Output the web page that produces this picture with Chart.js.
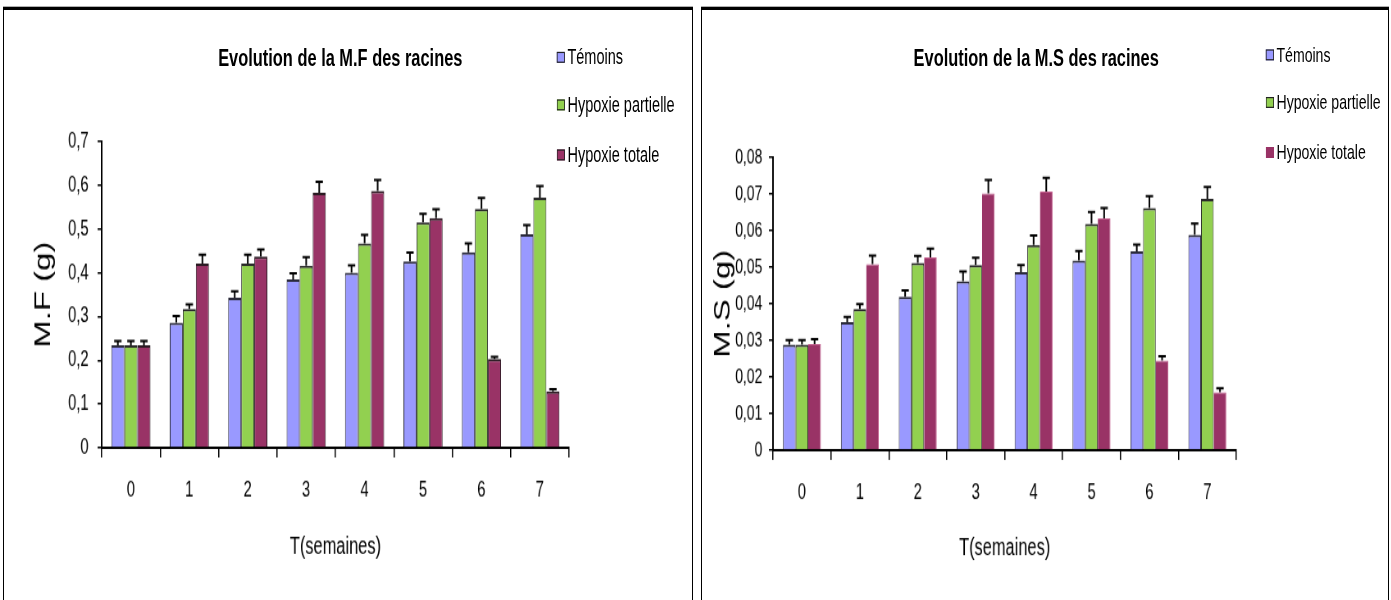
<!DOCTYPE html>
<html lang="fr">
<head>
<meta charset="utf-8">
<title>Evolution des racines</title>
<script src="https://cdn.jsdelivr.net/npm/chart.js@4.4.1/dist/chart.umd.min.js"></script>
<style>
  html, body { margin: 0; padding: 0; background: #fff; }
  body { width: 1391px; height: 600px; overflow: hidden; position: relative; font-family: "Liberation Sans", Arial, sans-serif; }
  .cadre { position: absolute; top: 7px; height: 600px; box-sizing: border-box; border-top: 3px solid #000; border-left: 1px solid #000; border-right: 1px solid #000; box-shadow: 0 -1px 0 #b0b0b0; }
  /* le dessin d'origine est étiré : étroit en largeur, haut en hauteur */
  .zone { position: absolute; top: 0; height: 492px; transform-origin: 0 0; transform: scale(0.82, 1.22); }
  .zone canvas { position: absolute; left: 0; top: 0; }
  .titre { position: absolute; font-weight: bold; font-size: 20px; color: #000; white-space: nowrap; transform: translate(-50%, -50%); }
  .item { position: absolute; display: flex; align-items: center; color: #000; white-space: nowrap; transform: translateY(-50%); }
  .item span.carre { display: inline-block; width: 10px; height: 9px; box-sizing: border-box; border: 1px solid #222; margin-right: 3px; }
</style>
</head>
<body>
<div class="cadre" style="left:3px; width:690px;"></div>
<div class="cadre" style="left:701px; width:688px;"></div>

<div class="zone" id="zone-mf" style="left:0; width:844px;">
  <canvas id="chart-mf" width="844" height="492"></canvas>
</div>
<div class="zone" id="zone-ms" style="left:700px; width:843px;">
  <canvas id="chart-ms" width="843" height="492"></canvas>
</div>

<script>
// semaines
const semaines = ['0', '1', '2', '3', '4', '5', '6', '7'];
const series = ['Témoins', 'Hypoxie partielle', 'Hypoxie totale'];
const couleurs = ['#9999FF', '#92D050', '#993366'];

// M.F des racines (g)
const mfTemoins = [0.234, 0.286, 0.343, 0.385, 0.400, 0.426, 0.447, 0.488];
const mfPartielle = [0.234, 0.317, 0.421, 0.416, 0.467, 0.515, 0.546, 0.572];
const mfTotale = [0.234, 0.421, 0.437, 0.583, 0.587, 0.525, 0.203, 0.129];
const mfErrTemoins = [0.010, 0.015, 0.015, 0.014, 0.017, 0.020, 0.020, 0.021];
const mfErrPartielle = [0.010, 0.011, 0.020, 0.020, 0.020, 0.020, 0.025, 0.026];
const mfErrTotale = [0.010, 0.020, 0.016, 0.025, 0.025, 0.020, 0.005, 0.005];

// M.S des racines (g)
const msTemoins = [0.0288, 0.0350, 0.0419, 0.0462, 0.0487, 0.0518, 0.0543, 0.0588];
const msPartielle = [0.0288, 0.0386, 0.0512, 0.0506, 0.0561, 0.0618, 0.0662, 0.0687];
const msTotale = [0.0290, 0.0508, 0.0527, 0.0702, 0.0707, 0.0633, 0.0245, 0.0158];
const msErrTemoins = [0.0013, 0.0014, 0.0018, 0.0026, 0.0019, 0.0026, 0.0019, 0.0031];
const msErrPartielle = [0.0013, 0.0013, 0.0019, 0.0020, 0.0026, 0.0033, 0.0032, 0.0032];
const msErrTotale = [0.0013, 0.0024, 0.0024, 0.0036, 0.0037, 0.0029, 0.0012, 0.0011];

// barres d'erreur (vers le haut seulement, avec un trait en bout)
const pluginErreurs = {
  id: 'erreurs',
  afterDatasetsDraw(chart) {
    const ctx = chart.ctx;
    const echelle = chart.scales.y;
    ctx.save();
    ctx.strokeStyle = '#000';
    ctx.lineWidth = 2;
    chart.data.datasets.forEach((ds, i) => {
      chart.getDatasetMeta(i).data.forEach((barre, j) => {
        const haut = echelle.getPixelForValue(ds.data[j] + ds.erreurs[j]);
        ctx.beginPath();
        ctx.moveTo(barre.x, barre.y);
        ctx.lineTo(barre.x, haut);
        ctx.moveTo(barre.x - 4.5, haut);
        ctx.lineTo(barre.x + 4.5, haut);
        ctx.stroke();
      });
    });
    ctx.restore();
  }
};

const creerGraphique = (id, valeurs, erreurs, cfg) => {
  const datasets = valeurs.map((v, i) => ({
    label: series[i],
    data: v,
    erreurs: erreurs[i],
    backgroundColor: couleurs[i],
    borderColor: cfg.bordures[i],
    borderWidth: cfg.epaisseurs[i],
    borderSkipped: 'bottom',
    categoryPercentage: cfg.groupe,
    barPercentage: 1
  }));
  return new Chart(document.getElementById(id), {
    type: 'bar',
    data: { labels: semaines, datasets },
    plugins: [pluginErreurs],
    options: {
      responsive: false,
      animation: false,
      devicePixelRatio: 1,
      layout: { padding: cfg.padding },
      plugins: { legend: { display: false }, title: { display: false }, tooltip: { enabled: false } },
      scales: {
        x: {
          grid: { drawOnChartArea: false, color: '#000', lineWidth: 1.5, tickLength: 8 },
          border: { color: '#000', width: 2 },
          ticks: { color: '#000', padding: 16, font: { family: 'Liberation Sans', size: 18 } },
          title: { display: true, text: 'T(semaines)', color: '#000', font: { family: 'Liberation Sans', size: 20 } },
          afterFit: (s) => { s.height = cfg.hauteurX; }
        },
        y: {
          min: 0,
          max: cfg.max,
          grid: { drawOnChartArea: false, color: '#000', lineWidth: 1.5, tickLength: 5 },
          border: { color: '#000', width: 2 },
          ticks: {
            stepSize: cfg.pas,
            color: '#000',
            padding: cfg.ecartY,
            font: { family: 'Liberation Sans', size: cfg.policeY },
            callback: (v) => v === 0 ? '0' : v.toFixed(cfg.decimales).replace('.', ',')
          },
          title: { display: true, text: cfg.titreY, color: '#000', font: { family: 'Liberation Sans', size: 27 } },
          afterFit: (s) => { s.width = cfg.largeurY; }
        }
      }
    }
  });
};

// titre + légende en texte HTML, dans le même repère étiré
const ajouterTextes = (zoneId, titre, tx, ty, lx, lys, bords, taille) => {
  const zone = document.getElementById(zoneId);
  const t = document.createElement('div');
  t.className = 'titre';
  t.style.left = tx + 'px';
  t.style.top = ty + 'px';
  t.textContent = titre;
  zone.appendChild(t);
  series.forEach((nom, i) => {
    const item = document.createElement('div');
    item.className = 'item';
    item.style.left = lx + 'px';
    item.style.top = lys[i] + 'px';
    item.style.fontSize = taille + 'px';
    item.innerHTML = `<span class="carre" style="background:${couleurs[i]};border-color:${bords[i]}"></span>${nom}`;
    zone.appendChild(item);
  });
};

creerGraphique('chart-mf', [mfTemoins, mfPartielle, mfTotale], [mfErrTemoins, mfErrPartielle, mfErrTotale], {
  max: 0.7, pas: 0.1, decimales: 1, titreY: 'M.F (g)', policeY: 18,
  padding: { left: 33, right: 150, top: 116, bottom: 28 },
  largeurY: 91, hauteurX: 97, ecartY: 11, groupe: 0.67,
  bordures: ['#2a2a3a', '#2a2a2a', '#2a1a22'],
  epaisseurs: [{ top: 2, left: 1, right: 1, bottom: 0 }, { top: 2, left: 1, right: 1, bottom: 0 }, { top: 2, left: 1, right: 1, bottom: 0 }]
});

creerGraphique('chart-ms', [msTemoins, msPartielle, msTotale], [msErrTemoins, msErrPartielle, msErrTotale], {
  max: 0.08, pas: 0.01, decimales: 2, titreY: 'M.S (g)', policeY: 17,
  padding: { left: 8, right: 189, top: 129, bottom: 27 },
  largeurY: 81, hauteurX: 96, ecartY: 8, groupe: 0.655,
  bordures: ['#2a2a3a', '#2a2a2a', '#c05a8a'],
  epaisseurs: [{ top: 2, left: 1, right: 1, bottom: 0 }, { top: 2, left: 1, right: 1, bottom: 0 }, { top: 1, left: 0, right: 1, bottom: 0 }]
});

ajouterTextes('zone-mf', 'Evolution de la M.F des racines', 415, 47.5, 679, [46.7, 86, 127], ['#222', '#222', '#222'], 17.7);
ajouterTextes('zone-ms', 'Evolution de la M.S des racines', 410, 47.5, 690, [45, 84.4, 125.4], ['#222', '#222', '#993366'], 17.2);
</script>
</body>
</html>
